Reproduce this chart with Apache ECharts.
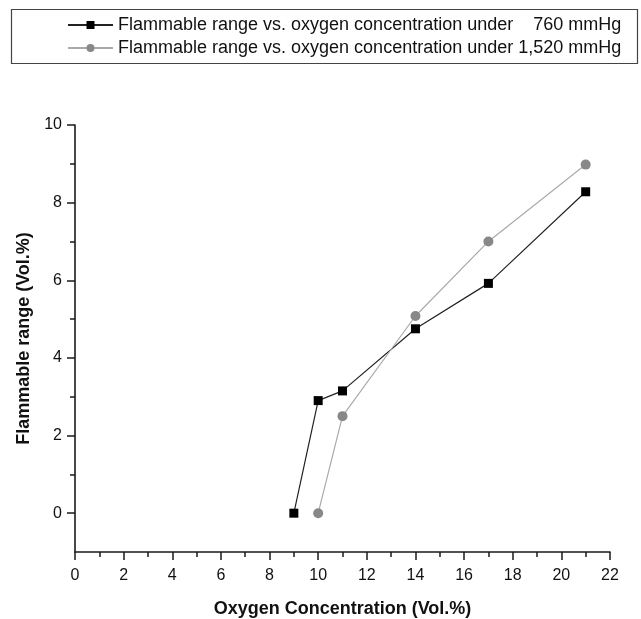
<!DOCTYPE html>
<html>
<head>
<meta charset="utf-8">
<script src="https://cdn.jsdelivr.net/npm/echarts@6/dist/echarts.min.js"></script>
<style>
  html, body { margin: 0; padding: 0; background: #fff; }
  #chart { width: 641px; height: 619px; }
</style>
</head>
<body>
<div id="chart"></div>
<script>
    // data
    var oxygen760 = [9, 10, 11, 14, 17, 21];
    var range760 = [0, 2.9, 3.15, 4.75, 5.92, 8.28];
    var oxygen1520 = [10, 11, 14, 17, 21];
    var range1520 = [0, 2.5, 5.08, 7.0, 8.98];
    var yMajorTicks = [0, 2, 4, 6, 8, 10];
    var yMinorTicks = [1, 3, 5, 7, 9];
    var name760 = 'Flammable range vs. oxygen concentration under    760 mmHg';
    var name1520 = 'Flammable range vs. oxygen concentration under 1,520 mmHg';

    function pairs(xs, ys) {
        return xs.map(function (x, i) { return [x, ys[i]]; });
    }

    var font = 'Arial, "Liberation Sans", sans-serif';
    var axisColor = '#1a1a1a';

    var chart = echarts.init(document.getElementById('chart'));
    var option = {
        animation: false,
        textStyle: { fontFamily: font },
        // legend frame
        graphic: [{
            type: 'rect',
            shape: { x: 11.5, y: 9.5, width: 626, height: 54 },
            style: { fill: 'none', stroke: '#444', lineWidth: 1.2 }
        }],
        legend: {
            orient: 'vertical',
            left: 62,
            top: 11,
            itemWidth: 45,
            itemHeight: 10,
            itemGap: 5,
            textStyle: { fontSize: 18, color: '#111', fontFamily: font },
            data: [name760, name1520]
        },
        grid: {
            left: 75,
            right: 31,
            top: 125,
            bottom: 67,
            containLabel: false,
            outerBoundsMode: 'none'
        },
        xAxis: {
            type: 'value',
            min: 0,
            max: 22,
            interval: 2,
            name: 'Oxygen Concentration (Vol.%)',
            nameLocation: 'middle',
            nameGap: 48,
            nameTextStyle: { fontSize: 18, fontWeight: 'bold', color: '#111', fontFamily: font },
            axisLine: { onZero: false, lineStyle: { color: axisColor, width: 1.6 } },
            axisTick: { length: 8, lineStyle: { color: axisColor, width: 1.5 } },
            minorTick: { show: true, splitNumber: 2, length: 5, lineStyle: { color: axisColor, width: 1.5 } },
            axisLabel: { fontSize: 16, color: '#111', margin: 16 },
            splitLine: { show: false }
        },
        yAxis: [{
            type: 'value',
            min: -1,
            max: 10,
            name: 'Flammable range (Vol.%)',
            nameLocation: 'middle',
            nameGap: 38,
            nameTextStyle: { fontSize: 18, fontWeight: 'bold', color: '#111', fontFamily: font },
            axisLine: { show: true, onZero: false, lineStyle: { color: axisColor, width: 1.6 } },
            axisTick: { show: true, length: 8, customValues: yMajorTicks, lineStyle: { color: axisColor, width: 1.5 } },
            axisLabel: { fontSize: 16, color: '#111', margin: 13, customValues: yMajorTicks },
            splitLine: { show: false }
        }, {
            // minor ticks on the odd values
            type: 'value',
            position: 'left',
            min: -1,
            max: 10,
            axisLine: { show: false, onZero: false },
            axisTick: { show: true, length: 5, customValues: yMinorTicks, lineStyle: { color: axisColor, width: 1.5 } },
            axisLabel: { show: false },
            splitLine: { show: false }
        }],
        series: [{
            name: name760,
            type: 'line',
            data: pairs(oxygen760, range760),
            symbol: 'rect',
            symbolSize: 9,
            itemStyle: { color: '#000' },
            lineStyle: { color: '#222', width: 1.2 }
        }, {
            name: name1520,
            type: 'line',
            data: pairs(oxygen1520, range1520),
            symbol: 'circle',
            symbolSize: 10,
            itemStyle: { color: '#888' },
            lineStyle: { color: '#aaa', width: 1.2 }
        }]
    };
    chart.setOption(option);
</script>
</body>
</html>
